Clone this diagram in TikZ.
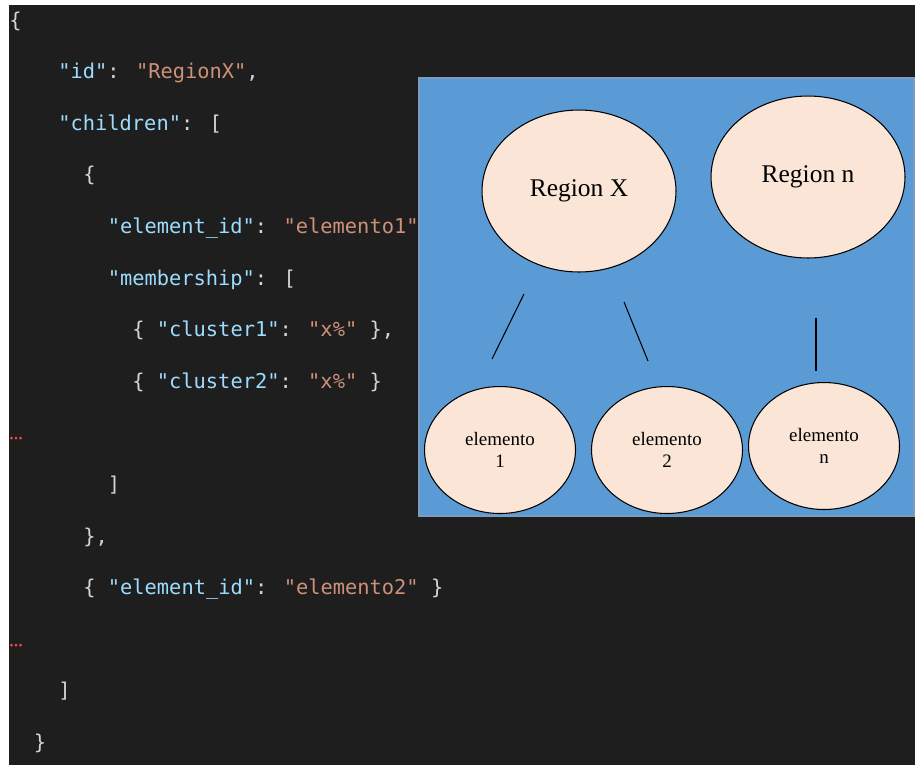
\documentclass[tikz,border=0pt]{standalone}
\usepackage{fontspec}
\setmainfont{Liberation Serif}
\newfontfamily\codefont{DejaVu Sans Mono}
\usetikzlibrary{shapes.geometric}
\definecolor{editorbg}{HTML}{1E1E1E}
\definecolor{jsonkey}{HTML}{9CDCFE}
\definecolor{jsonstr}{HTML}{CE9178}
\definecolor{jsonpunct}{HTML}{D4D4D4}
\definecolor{squiggle}{HTML}{F14C4C}
\definecolor{panelblue}{HTML}{5B9BD5}
\definecolor{panelline}{HTML}{7A9CBF}
\definecolor{bubble}{HTML}{FBE5D6}
\newcommand{\jk}[1]{\textcolor{jsonkey}{"#1"}}
\newcommand{\js}[1]{\textcolor{jsonstr}{"#1"}}
\tikzset{
  code/.style={anchor=base west,inner sep=0pt,text=jsonpunct,font=\codefont\fontsize{11.6}{14}\selectfont},
  region/.style={ellipse,draw,fill=bubble,line width=0.6pt,inner sep=0pt,minimum width=3.88cm,minimum height=3.24cm,font=\fontsize{14.5}{17}\selectfont},
  elem/.style={ellipse,draw,fill=bubble,line width=0.6pt,inner sep=0pt,minimum width=3.02cm,minimum height=2.54cm,align=center,font=\fontsize{10.8}{12.5}\selectfont},
  link/.style={line width=0.6pt}
}
\begin{document}
\begin{tikzpicture}[x=0.02cm,y=-0.02cm]
\useasboundingbox (0,0) rectangle (915,765);
\fill[editorbg] (9,5) rectangle (915,765);
\node[code] (l0) at (9,27) {\{};
\node[code] (l1) at (58,78.6) {\jk{id}: \js{RegionX},};
\node[code] (l2) at (58,130.2) {\jk{children}: [};
\node[code] (l3) at (83,181.8) {\{};
\node[code] (l4) at (107.4,233.4) {\jk{element\_id}: \js{elemento1},};
\node[code] (l5) at (107.4,285) {\jk{membership}: [};
\node[code] (l6) at (132,336.6) {\{ \jk{cluster1}: \js{x\%} \},};
\node[code] (l7) at (132,388.2) {\{ \jk{cluster2}: \js{x\%} \}};
\node[code] (l9) at (107.4,491.4) {]};
\node[code] (l10) at (83,543) {\},};
\node[code] (l11) at (83,594.6) {\{ \jk{element\_id}: \js{elemento2} \}};
\node[code] (l13) at (58,697.8) {]};
\node[code] (l14) at (33.6,749.4) {\}};
\foreach \y in {438,645}{\foreach \x in {11.5,16,20.5}{\fill[squiggle] (\x,\y) circle[radius=0.85pt];}}
\draw[panelline,fill=panelblue,line width=0.6pt] (419,78) rectangle (914,516);
\node[region] (rx) at (579,191) {Region X};
\node[region] (rn) at (808,177) {Region n};
\node[elem] (e1) at (500,450) {elemento\\1};
\node[elem] (e2) at (667,450) {elemento\\2};
\node[elem] (en) at (824,446) {elemento\\n};
\coordinate (a1) at (524,294); \coordinate (b1) at (492,359);
\coordinate (a2) at (624,302); \coordinate (b2) at (648,361);
\coordinate (a3) at (816,318); \coordinate (b3) at (816,371);
\foreach \a/\b in {a1/b1,a2/b2,a3/b3}{\draw[link] (\a)--(\b);}
\end{tikzpicture}
\end{document}
